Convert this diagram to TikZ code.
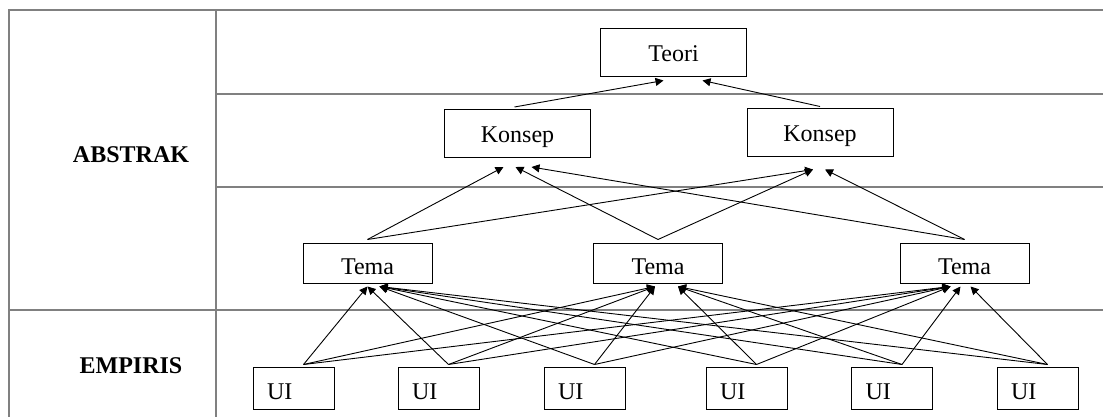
\documentclass[tikz,border=0pt]{standalone}
\usepackage{fontspec}
\setmainfont{Liberation Serif}
\usepackage{xcolor}
\usepackage{tikz}
\usetikzlibrary{arrows.meta}

\begin{document}
\begin{tikzpicture}[x=1pt, y=-1pt, ->, >={Triangle[length=8pt,width=8pt]}, line width=0.9pt,
		font=\fontsize{24}{28}\selectfont,
		tbl/.style={-, draw=gray, line width=1.5pt},
		box/.style={draw, rectangle, line width=1pt, text height=17.5pt, text depth=0pt, minimum width=146pt, minimum height=48pt},
		tema/.style={box, text height=22pt, minimum width=129pt, minimum height=40pt},
		ui/.style={box, text height=22pt, minimum width=81pt, minimum height=42pt, inner xsep=14pt, text width=53pt, align=left}]
			\useasboundingbox (0,0) rectangle (1103,417);

			% table
			\draw[tbl] (9,417) -- (9,10) -- (1103,10);
			\draw[tbl] (216,10) -- (216,417);
			\draw[tbl] (216,94) -- (1103,94);
			\draw[tbl] (216,187) -- (1103,187);
			\draw[tbl] (9,310) -- (1103,310);

			\node[anchor=base] (abs) at (131,162) {\textbf{ABSTRAK}};
			\node[anchor=base] (emp) at (131,373) {\textbf{EMPIRIS}};

			% boxes
			\node[box] (teori) at (673.5,53) {Teori};
			\node[box] (k1) at (517.5,133.5) {Konsep};
			\node[box] (k2) at (820,133) {Konsep};
			\node[tema] (t1) at (367.5,263) {Tema};
			\node[tema] (t2) at (658,263) {Tema};
			\node[tema] (t3) at (964.5,263) {Tema};
			\node[ui] (u1) at (293.5,388) {UI};
			\node[ui] (u2) at (438.5,388) {UI};
			\node[ui] (u3) at (584.5,388) {UI};
			\node[ui] (u4) at (746.5,388) {UI};
			\node[ui] (u5) at (892,388) {UI};
			\node[ui] (u6) at (1037.5,388) {UI};

			% konsep -> teori
			\path ([xshift=-3pt,yshift=2pt]k1.north) edge ([xshift=-10pt,yshift=-3pt]teori.south);
			\path ([yshift=2pt]k2.north) edge ([xshift=29pt,yshift=-3pt]teori.south);

			% tema -> konsep
			\path ([yshift=3pt]t1.north) edge ([xshift=-14pt,yshift=-9pt]k1.south);
			\path ([yshift=3pt]t2.north) edge ([xshift=-2pt,yshift=-9pt]k1.south);
			\path ([yshift=3pt]t3.north) edge ([xshift=14pt,yshift=-9pt]k1.south);
			\path ([yshift=3pt]t1.north) edge ([xshift=-7pt,yshift=-12pt]k2.south);
			\path ([yshift=3pt]t2.north) edge ([xshift=-7pt,yshift=-12pt]k2.south);
			\path ([yshift=3pt]t3.north) edge ([xshift=5pt,yshift=-12pt]k2.south);

			% UI -> tema
			\path ([xshift=10pt,yshift=2pt]u1.north) edge ([yshift=-3pt]t1.south);
			\path ([xshift=10pt,yshift=2pt]u2.north) edge ([yshift=-3pt]t1.south);
			\path ([xshift=10pt,yshift=2pt]u3.north) edge ([xshift=12pt,yshift=-3pt]t1.south);
			\path ([xshift=10pt,yshift=2pt]u4.north) edge ([xshift=12pt,yshift=-3pt]t1.south);
			\path ([xshift=10pt,yshift=2pt]u5.north) edge ([xshift=12pt,yshift=-3pt]t1.south);
			\path ([xshift=10pt,yshift=2pt]u6.north) edge ([xshift=12pt,yshift=-3pt]t1.south);

			\path ([xshift=10pt,yshift=2pt]u1.north) edge ([xshift=-3pt,yshift=-3pt]t2.south);
			\path ([xshift=10pt,yshift=2pt]u2.north) edge ([xshift=-3pt,yshift=-3pt]t2.south);
			\path ([xshift=10pt,yshift=2pt]u3.north) edge ([xshift=-3pt,yshift=-3pt]t2.south);
			\path ([xshift=10pt,yshift=2pt]u4.north) edge ([xshift=20pt,yshift=-3pt]t2.south);
			\path ([xshift=10pt,yshift=2pt]u5.north) edge ([xshift=20pt,yshift=-3pt]t2.south);
			\path ([xshift=10pt,yshift=2pt]u6.north) edge ([xshift=20pt,yshift=-3pt]t2.south);

			\path ([xshift=10pt,yshift=2pt]u1.north) edge ([xshift=-14pt,yshift=-3pt]t3.south);
			\path ([xshift=10pt,yshift=2pt]u2.north) edge ([xshift=-14pt,yshift=-3pt]t3.south);
			\path ([xshift=10pt,yshift=2pt]u3.north) edge ([xshift=-14pt,yshift=-3pt]t3.south);
			\path ([xshift=10pt,yshift=2pt]u4.north) edge ([xshift=-14pt,yshift=-3pt]t3.south);
			\path ([xshift=10pt,yshift=2pt]u5.north) edge ([xshift=-4pt,yshift=-3pt]t3.south);
			\path ([xshift=10pt,yshift=2pt]u6.north) edge ([xshift=6pt,yshift=-3pt]t3.south);
		\end{tikzpicture}
\end{document}
